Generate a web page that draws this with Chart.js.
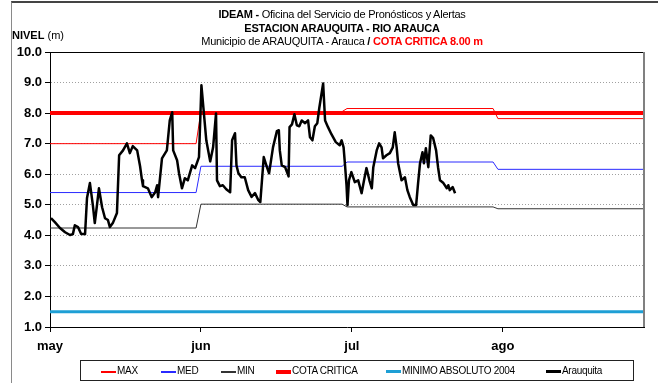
<!DOCTYPE html>
<html>
<head>
<meta charset="utf-8">
<script src="https://cdn.jsdelivr.net/npm/chart.js@4.4.0/dist/chart.umd.min.js"></script>
<style>
  body { margin: 0; background: #fff; font-family: "Liberation Sans", Arial, sans-serif; }
  #wrap { position: relative; width: 658px; height: 383px; overflow: hidden; }
  #grafico { position: absolute; left: 0; top: 0; }
  .marco { position: absolute; left: 11px; top: 1px; width: 660px; height: 400px;
           border-left: 1px solid #8a8a8a; border-top: 2px solid #444; }
  .titulo { position: absolute; left: 0; width: 684px; text-align: center; font-size: 11px;
            color: #000; white-space: nowrap; letter-spacing: -0.25px; }
  .titulo b { font-weight: bold; }
  .rojo { color: #ff0000; font-weight: bold; }
  #nivel { position: absolute; left: 12px; top: 29px; font-size: 11px; }
  #leyenda { position: absolute; left: 80px; top: 360px; width: 554px; height: 21px;
             border: 1px solid #222; box-sizing: border-box; }
  .item { position: absolute; top: 4px; font-size: 10px; letter-spacing: -0.3px;
          height: 12px; line-height: 12px; white-space: nowrap; }
  .muestra { position: absolute; left: 0; width: 15px; }
  .texto { position: absolute; left: 16px; top: 0; }
</style>
</head>
<body>
<div id="wrap">
  <div class="marco"></div>
  <canvas id="grafico" width="658" height="383"></canvas>
  <div class="titulo" style="top:8px"><b>IDEAM -</b> Oficina del Servicio de Pronósticos y Alertas</div>
  <div class="titulo" style="top:22px"><b>ESTACION ARAUQUITA - RIO ARAUCA</b></div>
  <div class="titulo" style="top:35px">Municipio de ARAUQUITA - Arauca <b>/</b> <span class="rojo">COTA CRITICA 8.00 m</span></div>
  <div id="nivel"><b>NIVEL</b> (m)</div>
  <div id="leyenda"></div>
</div>
<script>
// Nivel diario estación Arauquita: día contado desde el 1 de mayo y nivel en metros
const diasNivel = [
  0.2, 1.0, 2.05, 3.1, 4.1, 4.7, 5.1, 5.75, 6.4, 7.2,
  7.6, 8.2, 8.8, 9.2, 9.65, 10.05, 10.7, 11.3, 11.9, 12.3,
  12.9, 13.75, 14.2, 15.0, 15.8, 16.4, 17.0, 17.9, 18.5, 18.9,
  19.1, 20.1, 20.9, 21.6, 22.0, 22.2, 23.0, 24.0, 24.6, 25.1,
  25.3, 26.1, 26.5, 27.1, 27.7, 28.3, 29.2, 29.8, 30.6, 31.1,
  31.5, 32.1, 32.9, 33.5, 34.1, 34.3, 34.9, 35.5, 36.2, 37.0,
  37.4, 38.0, 38.3, 38.7, 39.3, 40.0, 40.7, 41.4, 42.1, 42.8,
  43.2, 43.9, 44.5, 45.0, 45.8, 46.6, 47.0, 47.2, 47.6, 48.3,
  49.0, 49.2, 49.7, 50.2, 50.7, 51.2, 51.7, 52.4, 53.0, 53.4,
  53.9, 54.4, 54.9, 55.3, 56.1, 56.5, 57.1, 57.8, 58.7, 59.5,
  59.9, 60.3, 60.6, 60.9, 61.1, 61.4, 61.9, 62.6, 63.3, 64.0,
  64.5, 65.0, 65.6, 66.1, 66.4, 67.1, 67.6, 68.1, 68.4, 69.1,
  69.8, 70.4, 70.8, 71.2, 71.5, 72.2, 72.9, 73.4, 73.9, 74.6,
  75.2, 75.6, 76.0, 76.5, 76.8, 77.2, 77.7, 78.2, 78.7, 79.3,
  79.7, 80.1, 80.8, 81.5, 81.8, 82.1, 82.7, 83.2
];
const nivelArauquita = [
  4.56, 4.43, 4.24, 4.10, 4.01, 4.04, 4.33, 4.27, 4.04, 4.04,
  5.22, 5.71, 4.99, 4.40, 4.99, 5.54, 4.92, 4.56, 4.50, 4.27,
  4.40, 4.73, 6.62, 6.78, 7.01, 6.69, 6.92, 6.78, 6.26, 5.80,
  5.61, 5.54, 5.25, 5.41, 5.64, 5.25, 6.52, 6.78, 7.76, 8.03,
  6.78, 6.46, 6.03, 5.54, 5.87, 5.80, 6.29, 6.20, 6.56, 8.91,
  8.19, 7.11, 6.42, 6.88, 7.99, 5.80, 5.61, 5.64, 5.51, 5.41,
  7.11, 7.34, 6.29, 6.03, 5.90, 5.90, 5.48, 5.26, 5.38, 5.15,
  5.09, 6.56, 6.26, 6.03, 6.88, 7.41, 7.44, 6.78, 6.29, 6.23,
  5.93, 7.54, 7.63, 7.96, 7.60, 7.57, 7.76, 7.67, 7.76, 7.21,
  7.11, 7.57, 7.67, 8.16, 8.97, 7.76, 7.54, 7.31, 7.05, 6.95,
  7.11, 6.88, 6.29, 5.64, 4.99, 5.80, 6.07, 5.74, 5.80, 5.38,
  5.80, 6.20, 5.80, 5.54, 6.23, 6.78, 7.01, 6.88, 6.52, 6.62,
  6.69, 6.88, 7.37, 6.88, 6.36, 5.80, 5.90, 5.48, 5.25, 4.99,
  4.99, 5.71, 6.36, 6.72, 6.36, 6.85, 6.23, 7.27, 7.18, 6.78,
  6.23, 5.80, 5.71, 5.54, 5.64, 5.48, 5.58, 5.38
];

// Valores históricos mensuales (may, jun, jul, ago)
const mesInicio = [0, 31, 61, 92];
const mesFin = [30, 60, 91, 122];
const maxMes = [7.0, 8.05, 8.15, 7.82];
const medMes = [5.4, 6.26, 6.4, 6.16];
const minMes = [4.24, 5.02, 4.93, 4.87];
const cotaCritica = 8.0;
const minimoAbsoluto = 1.5;

// Eje X
const etiquetasMes = ['may', 'jun', 'jul', 'ago'];
const diasEtiqueta = [0, 31, 62, 93];

// Posición horizontal de cada entrada de la leyenda
const leyendaX = [20, 80, 140, 195, 305, 465];

function escalon(valores) {
  const pts = [];
  valores.forEach((v, i) => {
    pts.push({ x: mesInicio[i], y: v }, { x: mesFin[i], y: v });
  });
  return pts;
}

function constante(v) {
  return [{ x: mesInicio[0], y: v }, { x: mesFin[mesFin.length - 1], y: v }];
}

const datasets = [
  { label: 'MAX', data: escalon(maxMes), borderColor: '#ff0000', borderWidth: 1, order: 2 },
  { label: 'MED', data: escalon(medMes), borderColor: '#2a2aff', borderWidth: 1, order: 3 },
  { label: 'MIN', data: escalon(minMes), borderColor: '#333333', borderWidth: 1, order: 4 },
  { label: 'COTA CRITICA', data: constante(cotaCritica), borderColor: '#ff0000', borderWidth: 4, order: 1 },
  { label: 'MINIMO ABSOLUTO 2004', data: constante(minimoAbsoluto), borderColor: '#1e9fd5', borderWidth: 3, order: 5 },
  { label: 'Arauquita', data: diasNivel.map((d, i) => ({ x: d, y: nivelArauquita[i] })),
    borderColor: '#000000', borderWidth: 2.5, order: 0, borderJoinStyle: 'round' }
];

// Borde superior y derecho del área de trazado
const bordeArea = {
  id: 'bordeArea',
  afterDraw(chart) {
    const { ctx, chartArea: a } = chart;
    ctx.save();
    ctx.strokeStyle = '#000';
    ctx.lineWidth = 1;
    ctx.beginPath();
    ctx.moveTo(a.left, a.top + 0.5);
    ctx.lineTo(a.right, a.top + 0.5);
    ctx.stroke();
    ctx.strokeStyle = '#808080';
    ctx.lineWidth = 2;
    ctx.beginPath();
    ctx.moveTo(a.right, a.top);
    ctx.lineTo(a.right, a.bottom);
    ctx.stroke();
    ctx.restore();
  }
};

const chart = new Chart(document.getElementById('grafico'), {
  type: 'line',
  data: { datasets: datasets.map(ds => Object.assign({ pointRadius: 0, tension: 0, fill: false }, ds)) },
  plugins: [bordeArea],
  options: {
    responsive: false,
    animation: false,
    events: [],
    layout: { padding: { top: 52, left: 10, right: 14, bottom: 26 } },
    plugins: { legend: { display: false }, tooltip: { enabled: false } },
    scales: {
      x: {
        type: 'linear',
        min: 0,
        max: 122,
        afterBuildTicks: scale => { scale.ticks = diasEtiqueta.map(v => ({ value: v })); },
        afterFit: scale => { scale.height = 30; },
        ticks: {
          autoSkip: false,
          maxRotation: 0,
          padding: 7,
          color: '#000',
          font: { family: '"Liberation Sans", Arial, sans-serif', size: 13, weight: 'bold' },
          callback: v => etiquetasMes[diasEtiqueta.indexOf(v)]
        },
        grid: { drawOnChartArea: false, tickLength: 5, color: '#000' },
        border: { color: '#000', width: 1 }
      },
      y: {
        min: 1,
        max: 10,
        afterFit: scale => { scale.width = 40; },
        ticks: {
          stepSize: 1,
          padding: 3,
          color: '#000',
          font: { family: '"Liberation Sans", Arial, sans-serif', size: 13, weight: 'bold' },
          callback: v => v.toFixed(1)
        },
        grid: { color: '#a0a0a0', tickColor: '#000', tickLength: 5, lineWidth: 1 },
        border: { color: '#000', width: 1, dash: [1, 2] }
      }
    }
  }
});

// Leyenda inferior: muestra de línea + nombre de la serie
const leyenda = document.getElementById('leyenda');
chart.data.datasets.forEach((ds, i) => {
  const item = document.createElement('div');
  item.className = 'item';
  item.style.left = leyendaX[i] + 'px';
  const grosor = Math.max(2, Math.round(ds.borderWidth));
  const m = document.createElement('div');
  m.className = 'muestra';
  m.style.height = grosor + 'px';
  m.style.top = (7 - Math.ceil(grosor / 2)) + 'px';
  m.style.backgroundColor = ds.borderColor;
  const t = document.createElement('span');
  t.className = 'texto';
  t.textContent = ds.label;
  item.appendChild(m);
  item.appendChild(t);
  leyenda.appendChild(item);
});
</script>
</body>
</html>
